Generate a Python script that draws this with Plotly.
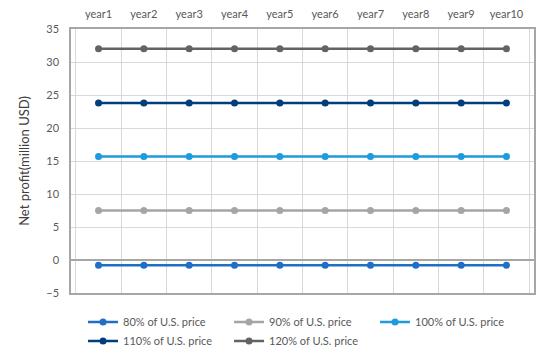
import plotly.graph_objects as go

years = ["year1", "year2", "year3", "year4", "year5", "year6", "year7", "year8", "year9", "year10"]
series_names = ["80% of U.S. price", "90% of U.S. price", "100% of U.S. price",
                "110% of U.S. price", "120% of U.S. price"]
p80 = [-0.8] * 10
p90 = [7.5] * 10
p100 = [15.7] * 10
p110 = [23.8] * 10
p120 = [32.0] * 10
series_values = [p80, p90, p100, p110, p120]
colors = ["#1F6FC6", "#A5A5A5", "#1E9BDC", "#003F7C", "#636363"]

fig = go.Figure()
for name, vals, c in zip(series_names, series_values, colors):
    fig.add_trace(go.Scatter(
        x=years, y=vals, name=name, mode="lines+markers",
        line=dict(color=c, width=2.5),
        marker=dict(color=c, size=7),
    ))

font = "Lato, 'Open Sans', sans-serif"
fig.update_layout(
    width=542, height=345,
    margin=dict(l=63, r=16, t=21, b=60, autoexpand=False),
    paper_bgcolor="white", plot_bgcolor="white",
    font=dict(family=font, size=11, color="#595959"),
    legend=dict(
        orientation="h", x=0.026, xanchor="left", y=-0.055, yanchor="top",
        entrywidth=101, entrywidthmode="pixels", itemwidth=30,
        font=dict(size=11, color="#595959"),
        tracegroupgap=0,
    ),
    showlegend=True,
)
fig.update_xaxes(
    type="category", side="top", tickson="boundaries", automargin=False,
    showgrid=True, gridcolor="#D9D9D9", gridwidth=1,
    showline=True, linecolor="#A6A6A6", linewidth=1.5, mirror=True,
    ticks="", ticklabelstandoff=5, tickfont=dict(size=11, color="#595959"),
)
fig.update_yaxes(
    range=[-5, 35], dtick=5, tick0=0, automargin=False,
    showgrid=True, gridcolor="#D9D9D9", gridwidth=1,
    zeroline=True, zerolinecolor="#A6A6A6", zerolinewidth=1.5,
    showline=True, linecolor="#A6A6A6", linewidth=1.5, mirror=True,
    ticks="", ticklabelstandoff=8,
    title=dict(text="Net profit(million USD)", font=dict(size=13, color="#404040"), standoff=14),
    tickfont=dict(size=11, color="#595959"),
)

fig.write_html("out.html")
